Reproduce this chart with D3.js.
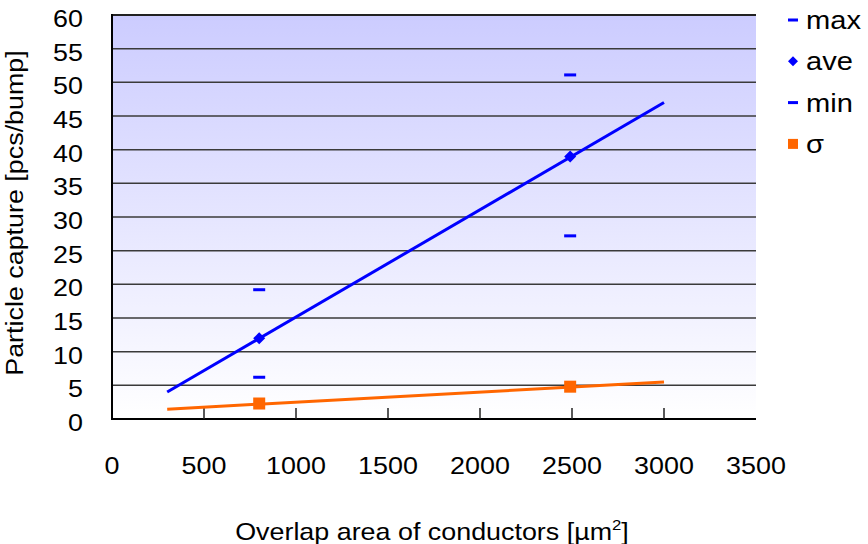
<!DOCTYPE html>
<html>
<head>
<meta charset="utf-8">
<script src="https://cdn.jsdelivr.net/npm/d3@7"></script>
<style>
  html, body { margin: 0; padding: 0; background: #fff; }
  svg { display: block; font-family: "Liberation Sans", Arial, sans-serif; }
</style>
</head>
<body>
<svg id="chart" width="868" height="544"></svg>
<script>
// Measured overlap areas and particle capture statistics
const areas = [800, 2490];
const maxCapture = [19.2, 51.1];
const aveCapture = [12.0, 39.0];
const minCapture = [6.2, 27.2];
const sigmaCapture = [2.3, 4.8];

// Linear trend lines (endpoints of the fitted ranges)
const trendAreas = [300, 3000];
const aveTrend = [4.0, 47.0];
const sigmaTrend = [1.45, 5.5];

// Axis ticks
const xTicks = [0, 500, 1000, 1500, 2000, 2500, 3000, 3500];
const yTicks = [0, 5, 10, 15, 20, 25, 30, 35, 40, 45, 50, 55, 60];

const legendItems = [
  { label: "max", kind: "dash", color: "#0000ff" },
  { label: "ave", kind: "diamond", color: "#0000ff" },
  { label: "min", kind: "dash", color: "#0000ff" },
  { label: "σ", kind: "square", color: "#ff6600" }
];

const svg = d3.select("#chart");
const plotL = 112, plotR = 756, plotT = 15, plotB = 419;
const FS = 24, SX = 1.12;

const x = d3.scaleLinear().domain([0, 3500]).range([plotL, plotR]);
const y = d3.scaleLinear().domain([0, 60]).range([plotB, plotT]);

// Plot background gradient
const defs = svg.append("defs");
const grad = defs.append("linearGradient").attr("id", "bg")
  .attr("x1", 0).attr("y1", 0).attr("x2", 0).attr("y2", 1);
grad.append("stop").attr("offset", "0%").attr("stop-color", "#ccccff");
grad.append("stop").attr("offset", "100%").attr("stop-color", "#ffffff");

svg.append("rect")
  .attr("x", plotL).attr("y", plotT)
  .attr("width", plotR - plotL).attr("height", plotB - plotT)
  .attr("fill", "url(#bg)");

// Horizontal gridlines
svg.append("g").selectAll("line")
  .data(yTicks.filter(d => d > 0))
  .join("line")
  .attr("x1", plotL).attr("x2", plotR)
  .attr("y1", d => y(d)).attr("y2", d => y(d))
  .attr("stroke", d => d === 60 ? "#222" : "#3a3a3a")
  .attr("stroke-width", d => d === 60 ? 2 : 1.5);

// Axes lines
svg.append("line").attr("x1", plotL).attr("x2", plotL)
  .attr("y1", plotT - 1).attr("y2", plotB + 1)
  .attr("stroke", "#000").attr("stroke-width", 2);
svg.append("line").attr("x1", plotL - 1).attr("x2", plotR)
  .attr("y1", plotB).attr("y2", plotB)
  .attr("stroke", "#000").attr("stroke-width", 2);

// X tick marks (pointing into the plot)
svg.append("g").selectAll("line")
  .data(xTicks.filter(d => d > 0 && d < 3500))
  .join("line")
  .attr("x1", d => x(d)).attr("x2", d => x(d))
  .attr("y1", plotB).attr("y2", plotB - 11)
  .attr("stroke", "#222").attr("stroke-width", 1.5);

function stretchedText(sel, px, py, anchor, rotate, size) {
  sel.attr("text-anchor", anchor)
    .attr("transform", `translate(${px},${py})${rotate ? ` rotate(${rotate})` : ""} scale(${SX},1)`)
    .attr("font-size", size || FS).attr("fill", "#000");
  return sel;
}

// Y tick labels
svg.append("g").selectAll("text")
  .data(yTicks)
  .join("text")
  .each(function (d) {
    stretchedText(d3.select(this), 83, y(d) + 12, "end").text(d);
  });

// X tick labels
svg.append("g").selectAll("text")
  .data(xTicks)
  .join("text")
  .each(function (d) {
    stretchedText(d3.select(this), x(d), 474, "middle").text(d);
  });

// Axis titles
const xt = stretchedText(svg.append("text"), 432, 540, "middle");
xt.append("tspan").text("Overlap area of conductors [µm");
xt.append("tspan").attr("font-size", 15).attr("dy", -10).text("2");
xt.append("tspan").attr("dy", 10).text("]");

stretchedText(svg.append("text"), 23, 213, "middle", -90)
  .text("Particle capture [pcs/bump]");

// Trend lines
const line = d3.line().x(d => x(d[0])).y(d => y(d[1]));
svg.append("path")
  .attr("d", line(d3.zip(trendAreas, aveTrend)))
  .attr("stroke", "#0000ff").attr("stroke-width", 3).attr("fill", "none");
svg.append("path")
  .attr("d", line(d3.zip(trendAreas, sigmaTrend)))
  .attr("stroke", "#ff6600").attr("stroke-width", 3).attr("fill", "none");

// Markers
function drawMarker(g, kind, color, cx, cy) {
  if (kind === "dash") {
    g.append("rect").attr("x", cx - 6).attr("y", cy - 1.5)
      .attr("width", 12).attr("height", 3).attr("fill", color);
  } else if (kind === "diamond") {
    g.append("path")
      .attr("d", `M${cx},${cy - 6}L${cx + 6},${cy}L${cx},${cy + 6}L${cx - 6},${cy}Z`)
      .attr("fill", color);
  } else {
    g.append("rect").attr("x", cx - 6).attr("y", cy - 6)
      .attr("width", 12).attr("height", 12).attr("fill", color);
  }
}

const marks = svg.append("g");
areas.forEach((a, i) => {
  drawMarker(marks, "dash", "#0000ff", x(a), y(maxCapture[i]));
  drawMarker(marks, "dash", "#0000ff", x(a), y(minCapture[i]));
  drawMarker(marks, "diamond", "#0000ff", x(a), y(aveCapture[i]));
  drawMarker(marks, "square", "#ff6600", x(a), y(sigmaCapture[i]));
});

// Legend
const legend = svg.append("g");
legendItems.forEach((item, i) => {
  const cy = 20 + i * 41.3;
  if (item.kind === "dash") {
    legend.append("rect").attr("x", 788).attr("y", cy - 1.5)
      .attr("width", 10).attr("height", 3).attr("fill", item.color);
  } else if (item.kind === "diamond") {
    legend.append("path")
      .attr("d", `M793,${cy - 5}L798,${cy}L793,${cy + 5}L788,${cy}Z`)
      .attr("fill", item.color);
  } else {
    legend.append("rect").attr("x", 788).attr("y", cy - 5)
      .attr("width", 10).attr("height", 10).attr("fill", item.color);
  }
  stretchedText(legend.append("text"), 806, cy + 9, "start", 0, 26).text(item.label);
});
</script>
</body>
</html>
